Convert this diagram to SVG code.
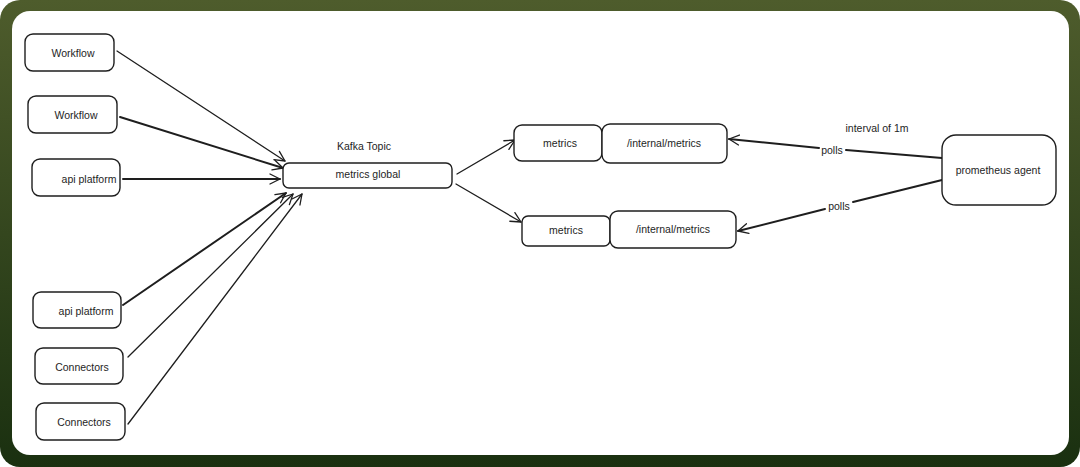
<svg xmlns="http://www.w3.org/2000/svg" width="1080" height="467" viewBox="0 0 1080 467">
<defs>
<linearGradient id="bg" x1="0" y1="0" x2="0" y2="1">
<stop offset="0" stop-color="#4e5c2c"/>
<stop offset="1" stop-color="#1a3010"/>
</linearGradient>
<marker id="ah" viewBox="0 0 12 12" refX="11" refY="6" markerWidth="12" markerHeight="12" markerUnits="userSpaceOnUse" orient="auto">
<path d="M1,1 L11,6 L1,11" fill="none" stroke="#1e1e1e" stroke-width="1.3" stroke-linecap="round" stroke-linejoin="round"/>
</marker>
<style>
.box{fill:#fff;stroke:#1e1e1e;stroke-width:1.4}
.t{font-family:"Liberation Sans","DejaVu Sans",sans-serif;font-size:10.5px;fill:#1e1e1e;text-anchor:middle;dominant-baseline:central}
.c{fill:none;stroke:#1e1e1e;stroke-width:1.3;stroke-linecap:round}
.ca{marker-end:url(#ah)}
.thick{stroke-width:2}
</style>
</defs>
<rect x="0" y="0" width="1080" height="467" rx="20" fill="url(#bg)"/>
<rect x="12" y="11" width="1057" height="444" rx="18" fill="#fff"/>

<g id="connectors">
<line class="c ca" x1="117" y1="51" x2="285" y2="161"/>
<line class="c ca thick" x1="120" y1="117" x2="283" y2="168"/>
<line class="c ca thick" x1="123" y1="179" x2="280" y2="179"/>
<line class="c ca thick" x1="123" y1="305" x2="286" y2="193"/>
<line class="c ca" x1="128" y1="357" x2="293" y2="194"/>
<line class="c ca" x1="128" y1="424" x2="302" y2="194"/>
<line class="c ca" x1="457" y1="174" x2="515" y2="140"/>
<line class="c ca" x1="456" y1="184" x2="521" y2="222"/>
<line class="c thick" x1="942" y1="158" x2="846" y2="150"/>
<line class="c ca thick" x1="819" y1="148" x2="729" y2="139"/>
<line class="c thick" x1="942" y1="180" x2="853" y2="202"/>
<line class="c ca thick" x1="825" y1="209" x2="738" y2="231"/>
</g>

<g id="edge-labels">
<text class="t" x="877" y="128">interval of 1m</text>
<text class="t" x="832" y="150">polls</text>
<text class="t" x="839" y="206">polls</text>
</g>

<g id="workflow-1"><rect class="box" x="25" y="34" width="89" height="37" rx="8"/><text class="t" x="73" y="53">Workflow</text></g>
<g id="workflow-2"><rect class="box" x="28" y="96" width="89" height="37" rx="8"/><text class="t" x="76" y="115">Workflow</text></g>
<g id="api-platform-1"><rect class="box" x="32" y="159" width="88" height="37" rx="8"/><text class="t" x="89" y="179">api platform</text></g>
<g id="api-platform-2"><rect class="box" x="33" y="292" width="88" height="36" rx="8"/><text class="t" x="86" y="311">api platform</text></g>
<g id="connectors-1"><rect class="box" x="35" y="348" width="88" height="36" rx="8"/><text class="t" x="82" y="367">Connectors</text></g>
<g id="connectors-2"><rect class="box" x="36" y="403" width="89" height="37" rx="8"/><text class="t" x="84" y="422">Connectors</text></g>

<g id="kafka-topic"><text class="t" x="364" y="146">Kafka Topic</text><rect class="box" x="283" y="163" width="169" height="25" rx="6"/><text class="t" x="368" y="174">metrics global</text></g>

<g id="metrics-1"><rect class="box" x="514" y="125" width="88" height="36" rx="8"/><text class="t" x="560" y="143">metrics</text></g>
<g id="internal-metrics-1"><rect class="box" x="602" y="124" width="125" height="39" rx="8"/><text class="t" x="664" y="143">/internal/metrics</text></g>
<g id="metrics-2"><rect class="box" x="522" y="216" width="88" height="30" rx="6"/><text class="t" x="566" y="230">metrics</text></g>
<g id="internal-metrics-2"><rect class="box" x="610" y="211" width="126" height="37" rx="8"/><text class="t" x="673" y="229">/internal/metrics</text></g>

<g id="prometheus-agent"><rect class="box" x="942" y="135" width="114" height="70" rx="14"/><text class="t" x="998" y="170">prometheus agent</text></g>
</svg>
